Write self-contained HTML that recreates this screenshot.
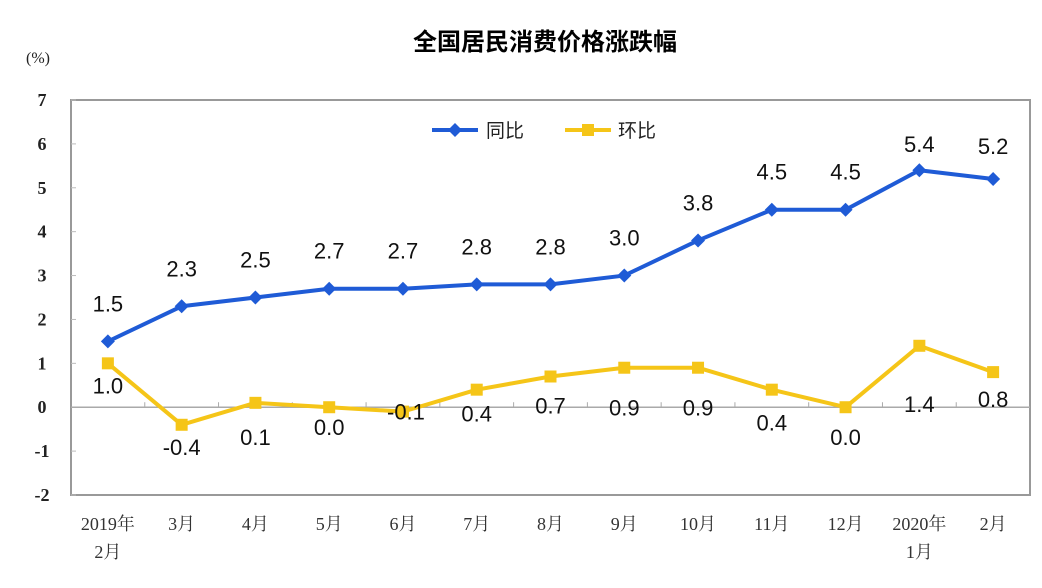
<!DOCTYPE html>
<html><head><meta charset="utf-8"><style>
html,body{margin:0;padding:0;background:#fff;width:1042px;height:588px;overflow:hidden}
svg{display:block}
</style></head><body>
<svg id="chart" width="1042" height="588"></svg>
<script>
const categories=["2019年|2月","3月","4月","5月","6月","7月","8月","9月","10月","11月","12月","2020年|1月","2月"];
const yoy=[1.5,2.3,2.5,2.7,2.7,2.8,2.8,3.0,3.8,4.5,4.5,5.4,5.2];
const mom=[1.0,-0.4,0.1,0.0,-0.1,0.4,0.7,0.9,0.9,0.4,0.0,1.4,0.8];
const yTicks=[7,6,5,4,3,2,1,0,-1,-2];
const yoyLabels=["1.5","2.3","2.5","2.7","2.7","2.8","2.8","3.0","3.8","4.5","4.5","5.4","5.2"];
const momLabels=["1.0","-0.4","0.1","0.0","-0.1","0.4","0.7","0.9","0.9","0.4","0.0","1.4","0.8"];

const L=71,R=1030,T=100,B=495,yMin=-2,yMax=7;
const band=(R-L)/categories.length;
const x=i=>L+band*(i+0.5);
const y=v=>B-(v-yMin)/(yMax-yMin)*(B-T);
const NS="http://www.w3.org/2000/svg";
const svg=document.getElementById('chart');
function mk(tag,attrs,parent){const e=document.createElementNS(NS,tag);for(const k in attrs)e.setAttribute(k,attrs[k]);(parent||svg).appendChild(e);return e;}

let t=mk('text',{x:545,y:50,'text-anchor':'middle','font-size':24,'font-weight':'bold','font-family':'"Liberation Sans","Noto Sans CJK SC",sans-serif',fill:'#000'});
t.textContent='全国居民消费价格涨跌幅';


t=mk('text',{x:38,y:63,'text-anchor':'middle','font-size':16,'font-family':'"Liberation Serif",serif',fill:'#222'});
t.textContent='(%)';



let fr=mk('rect',{x:L,y:T,width:R-L,height:B-T,fill:'none',stroke:'#999','stroke-width':2});


yTicks.forEach(v=>{
  const tk=mk('line',{x1:L,x2:L+5,y1:y(v),y2:y(v),stroke:'#bbb','stroke-width':1});
  
  
  const lb=mk('text',{x:42,y:y(v)+6,'text-anchor':'middle','font-size':18,'font-weight':'bold','font-family':'"Liberation Serif",serif',fill:'#222'});
  lb.textContent=v;
  
  
});
let zl=mk('line',{x1:L,x2:R,y1:y(0),y2:y(0),stroke:'#aaa','stroke-width':1.5});


for(let i=1;i<categories.length;i++){
  const tk=mk('line',{x1:L+band*i,x2:L+band*i,y1:y(0),y2:y(0)-5,stroke:'#aaa','stroke-width':1});
  
  
}
categories.forEach((c,i)=>{
  c.split('|').forEach((p,j)=>{
    const lb=mk('text',{x:x(i),y:530+j*28,'text-anchor':'middle','font-size':18,'font-family':'"Liberation Serif","Noto Serif CJK SC",serif',fill:'#333'});
    lb.textContent=p;
    
    
  });
});

function series(vals,color,name,marker){
  const pl=mk('polyline',{points:vals.map((v,i)=>x(i)+','+y(v)).join(' '),fill:'none',stroke:color,'stroke-width':4,'stroke-linejoin':'round'});
  
  
  vals.forEach((v,i)=>{
    let m;
    if(marker==='diamond') m=mk('polygon',{points:`${x(i)},${y(v)-7} ${x(i)+7},${y(v)} ${x(i)},${y(v)+7} ${x(i)-7},${y(v)}`,fill:color});
    else m=mk('rect',{x:x(i)-6,y:y(v)-6,width:12,height:12,fill:color});
    
    
  });
}
series(yoy,'#1F5BD6','yoy','diamond');
series(mom,'#F5C518','mom','square');

const yoyDy=[-30,-30,-30,-30,-30,-30,-30,-30,-30,-30,-30,-18,-25];
yoy.forEach((v,i)=>{
  const lb=mk('text',{x:x(i),y:y(v)+yoyDy[i],'text-anchor':'middle','font-size':22,'font-family':'"Liberation Sans",sans-serif',fill:'#111'});
  lb.textContent=yoyLabels[i];
  
  
});
const momDx=[0,0,0,0,3,0,0,0,0,0,0,0,0];
const momDy=[30,30,42,28,8,32,37,48,48,41,38,66,35];
mom.forEach((v,i)=>{
  const lb=mk('text',{x:x(i)+momDx[i],y:y(v)+momDy[i],'text-anchor':'middle','font-size':22,'font-family':'"Liberation Sans",sans-serif',fill:'#111'});
  lb.textContent=momLabels[i];
  
  
});

let g=mk('g',{});


mk('line',{x1:432,x2:478,y1:130,y2:130,stroke:'#1F5BD6','stroke-width':4},g);
mk('polygon',{points:'455,123 462,130 455,137 448,130',fill:'#1F5BD6'},g);
t=mk('text',{x:486,y:137,'font-size':19,'font-family':'"Liberation Sans","Noto Sans CJK SC",sans-serif',fill:'#222'},g);t.textContent='同比';
g=mk('g',{});


mk('line',{x1:565,x2:611,y1:130,y2:130,stroke:'#F5C518','stroke-width':4},g);
mk('rect',{x:582,y:124,width:12,height:12,fill:'#F5C518'},g);
t=mk('text',{x:618,y:137,'font-size':19,'font-family':'"Liberation Sans","Noto Sans CJK SC",sans-serif',fill:'#222'},g);t.textContent='环比';
</script>
</body></html>
